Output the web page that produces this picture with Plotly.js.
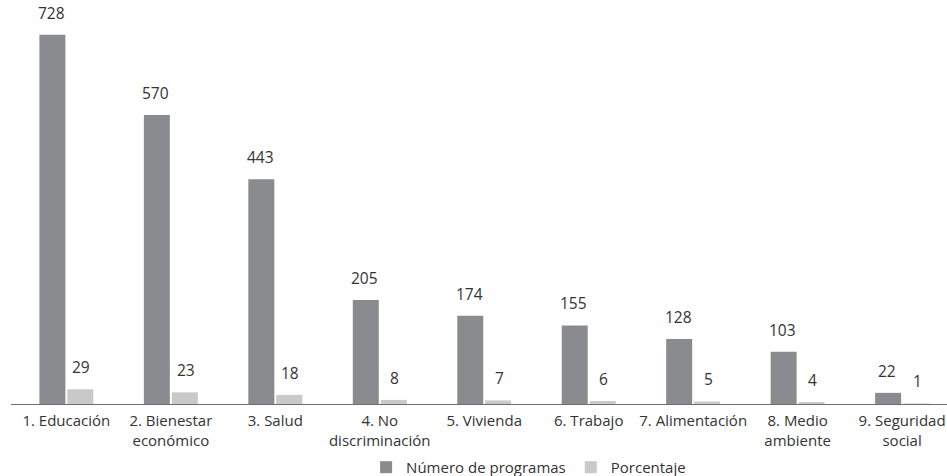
<!DOCTYPE html>
<html>
<head>
<meta charset="utf-8">
<script src="https://cdn.plot.ly/plotly-3.0.1.min.js"></script>
<style>html,body{margin:0;padding:0;background:#fff;}#chart{width:947px;height:476px;}</style>
</head>
<body>
<div id="chart"></div>
<script>
var categories = ["1. Educación", "2. Bienestar<br>económico", "3. Salud", "4. No<br>discriminación", "5. Vivienda", "6. Trabajo", "7. Alimentación", "8. Medio<br>ambiente", "9. Seguridad<br>social"];
var programas = [728, 570, 443, 205, 174, 155, 128, 103, 22];
var porcentaje = [29, 23, 18, 8, 7, 6, 5, 4, 1];
var seriesNames = ["Número de programas", "Porcentaje"];

var darkColor = "#8a8b8e";
var lightColor = "#c8c9cb";
var textColor = "#333333";
var fontFam = "Open Sans";
var fs = 15;

var traces = [
  {type: "bar", name: seriesNames[0], x: categories, y: programas, marker: {color: darkColor}, hoverinfo: "skip"},
  {type: "bar", name: seriesNames[1], x: categories, y: porcentaje, marker: {color: lightColor}, hoverinfo: "skip"}
];

var annotations = [];
categories.forEach(function (c, i) {
  annotations.push({x: c, y: programas[i], xref: "x", yref: "y", text: String(programas[i]), showarrow: false,
    xshift: -15, yshift: 9, yanchor: "bottom", font: {family: fontFam, size: 15.5, color: textColor}});
  annotations.push({x: c, y: porcentaje[i], xref: "x", yref: "y", text: String(porcentaje[i]), showarrow: false,
    xshift: 15, yshift: 9, yanchor: "bottom", font: {family: fontFam, size: 15.5, color: textColor}});
});

var layout = {
  width: 947, height: 476,
  margin: {l: 11, r: 0, t: 10, b: 72},
  paper_bgcolor: "#ffffff", plot_bgcolor: "#ffffff",
  font: {family: fontFam, size: fs, color: textColor},
  barmode: "group", bargap: 0.465, bargroupgap: 0.07,
  xaxis: {type: "category", range: [-0.53, 8.43], automargin: false, showline: true, linecolor: "#6d6e70", linewidth: 1,
    ticks: "", ticklabelstandoff: 3, showgrid: false, zeroline: false, tickfont: {family: fontFam, size: fs, color: textColor}},
  yaxis: {range: [0, 777], visible: false, showgrid: false, zeroline: false, automargin: false},
  showlegend: true,
  legend: {orientation: "h", x: 0.553, xanchor: "center", xref: "paper", yref: "container", y: 0.018, yanchor: "middle",
    font: {family: fontFam, size: fs, color: textColor}, itemwidth: 30, traceorder: "normal"},
  annotations: annotations
};

Plotly.newPlot("chart", traces, layout, {staticPlot: true, displayModeBar: false});
</script>
</body>
</html>
